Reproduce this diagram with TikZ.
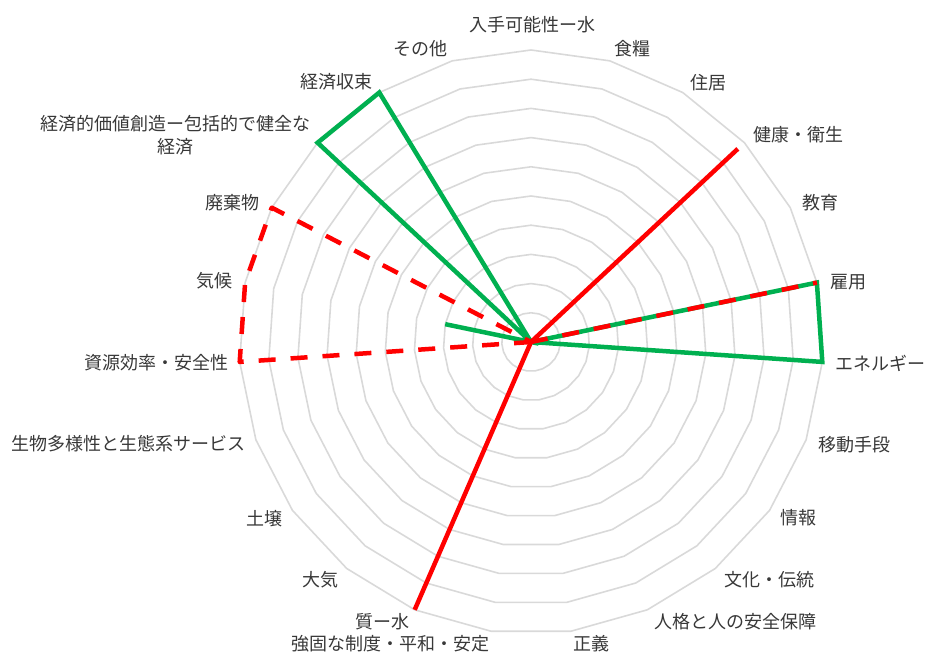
\documentclass[tikz,border=0pt]{standalone}
\usepackage{fontspec}
\setmainfont{Noto Sans CJK JP}
\definecolor{gridgray}{RGB}{217,217,217}
\definecolor{labelgray}{RGB}{56,56,56}
\definecolor{seriesgreen}{RGB}{0,176,80}
\definecolor{seriesred}{RGB}{255,0,0}
\tikzset{
  ring/.style={draw=gridgray, line width=1.6pt},
  axislabel/.style={font=\fontsize{18pt}{23pt}\selectfont, text=labelgray, inner sep=0pt},
  greenline/.style={draw=seriesgreen, line width=4.5pt, line join=miter},
  redline/.style={draw=seriesred, line width=4.5pt},
  reddash/.style={draw=seriesred, line width=4.5pt, line join=round, dash pattern=on 17pt off 15pt},
}

\begin{document}
\begin{tikzpicture}[x=1pt,y=1pt]
	\useasboundingbox (0,0) rectangle (926,654);
	\coordinate (c) at (531,312);
	
	\foreach \i in {1,...,10}
		\draw[ring, shift={(c)}] (90:{\i*29.2}) \foreach \k in {1,...,22}{ -- ({90-\k*360/23}:{\i*29.2}) } -- cycle;
	
	\foreach \k in {0,...,22}
		\path (c) ++({90-\k*360/23}:292) coordinate (a\k);
	\path (c) ++({90-18*360/23}:87.6) coordinate (g18);
	\path (c) ++({90-3*360/23}:283) coordinate (r3);
	
	\node[axislabel] (water) at (532,629) {入手可能性ー水};
	\node[axislabel, anchor=west] (food) at (614,605) {食糧};
	\node[axislabel, anchor=west] (housing) at (690,571) {住居};
	\node[axislabel, anchor=west] (health) at (753,519) {健康・衛生};
	\node[axislabel, anchor=west] (education) at (802,451) {教育};
	\node[axislabel, anchor=west] (employment) at (830,372) {雇用};
	\node[axislabel, anchor=west] (energy) at (835,291) {エネルギー};
	\node[axislabel, anchor=west] (mobility) at (818,209) {移動手段};
	\node[axislabel, anchor=east] (information) at (817,136) {情報};
	\node[axislabel, anchor=east] (culture) at (815,74) {文化・伝統};
	\node[axislabel, anchor=east] (security) at (817,32) {人格と人の安全保障};
	\node[axislabel, anchor=west] (justice) at (573,10) {正義};
	\node[axislabel, anchor=east] (institutions) at (490,10) {強固な制度・平和・安定};
	\node[axislabel, anchor=east] (waterquality) at (410,32) {質ー水};
	\node[axislabel, anchor=east] (air) at (339,74) {大気};
	\node[axislabel, anchor=east] (soil) at (283,135) {土壌};
	\node[axislabel, anchor=east] (biodiversity) at (246,210) {生物多様性と生態系サービス};
	\node[axislabel, anchor=east] (resources) at (229,291) {資源効率・安全性};
	\node[axislabel, anchor=east] (climate) at (233,373) {気候};
	\node[axislabel, anchor=east] (waste) at (260,451) {廃棄物};
	\node[axislabel, anchor=east, align=center] (economy) at (311,518.5) {経済的価値創造ー包括的で健全な\\経済};
	\node[axislabel, anchor=east] (convergence) at (373,572) {経済収束};
	\node[axislabel, anchor=east] (other) at (448,605) {その他};
	
	\draw[greenline] (c) -- (a5) -- (a6) -- (c) -- (g18) -- (c) -- (a20) -- (a21) -- cycle;
	\draw[redline] (a13) -- (c) -- (r3);
	\draw[reddash] (c) -- (a5);
	\draw[reddash] (c) -- (a17) -- (a18) -- (a19) -- cycle;
\end{tikzpicture}
\end{document}
